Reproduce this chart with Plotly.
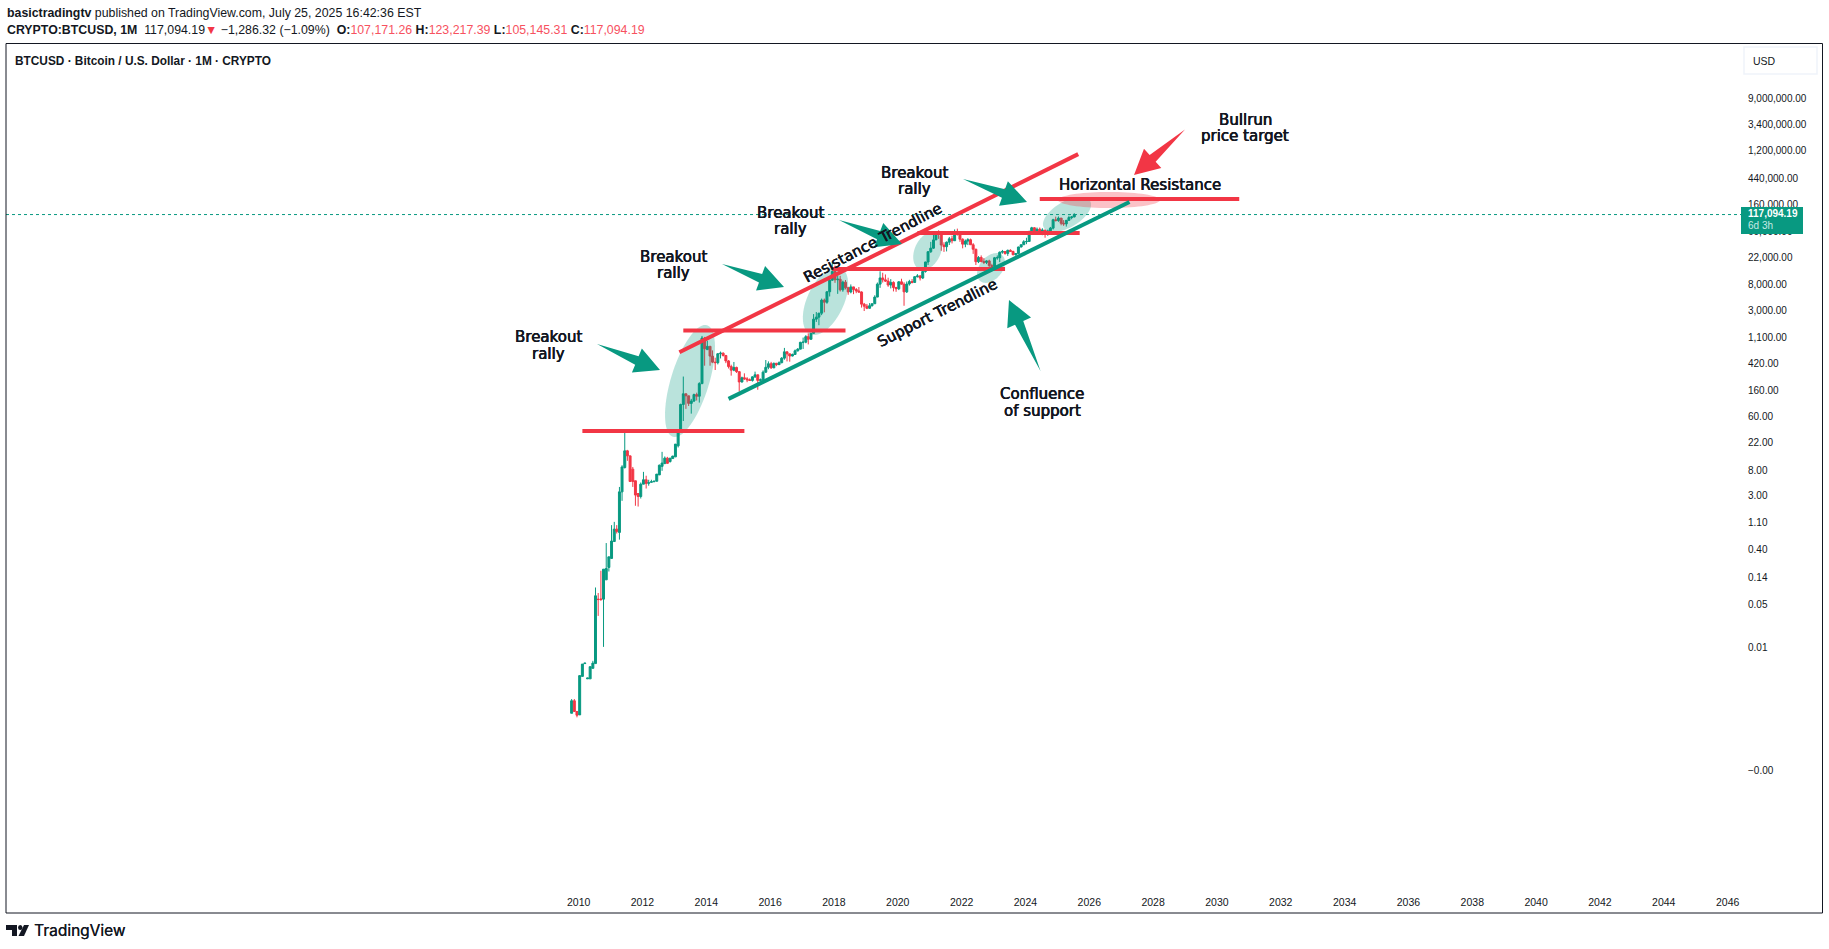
import numpy as np
import pandas as pd
import plotly.graph_objects as go

# monthly BTCUSD candles, first bar Oct 2009
open_ = [
    0.00085, 0.00136, 0.00091,
    0.0008, 0.0034, 0.0055, 0.0031, 0.0031, 0.0046, 0.0055, 0.062, 0.062, 0.062, 0.128, 0.204,
    0.286, 0.54, 0.86, 0.76, 3.49, 8.7, 16.3, 13.5, 8.2, 5.3, 3.28, 2.93,
    4.66, 5.5, 4.84, 5.0, 5.1, 5.2, 6.6, 9.1, 10.1, 12.4, 10.9, 12.2,
    13, 19.7, 33, 93, 139, 129, 97, 106, 135, 127, 204, 1130,
    732, 829, 573, 457, 448, 628, 640, 586, 478, 387, 338, 375,
    320, 217, 254, 244, 236, 230, 263, 284, 230, 236, 314, 377,
    430, 369, 437, 416, 448, 531, 673, 624, 575, 610, 700, 745,
    963, 968, 1190, 1080, 1350, 2300, 2480, 2875, 4700, 4340, 6440, 9950,
    13800, 10100, 10300, 6920, 9240, 7490, 6390, 7730, 7010, 6630, 6370, 4040,
    3740, 3460, 3810, 4100, 5270, 8570, 10820, 10080, 9600, 8290, 9150, 7550,
    7190, 9350, 8540, 6410, 8620, 9450, 9140, 11350, 11650, 10780, 13800, 19700,
    29000, 33100, 45200, 58800, 57700, 37300, 35000, 41500, 47100, 43800, 61300, 57000,
    46300, 38500, 43200, 45500, 37700, 31800, 19900, 23300, 20000, 19400, 20500, 17200,
    16600, 23100, 23100, 28500, 29200, 27200, 30500, 29200, 25900, 27000, 34600, 37700,
    42200, 42600, 61100, 71300, 60600, 67500, 62700, 65300, 59000, 63300, 70300, 96400,
    93400, 102400, 84300, 82500, 94200, 104600, 107171,
]
high = [
    0.00145, 0.00145, 0.00091,
    0.0035, 0.0054, 0.0056, 0.0032, 0.0049, 0.0061, 0.096, 0.078, 0.18, 0.191, 0.51, 0.304,
    1.0, 1.13, 1.0, 4.2, 9.5, 32.4, 16.9, 13.5, 8.9, 5.3, 3.28, 4.96,
    7.4, 6.4, 5.5, 5.5, 5.3, 6.8, 9.75, 15.7, 13.2, 13, 12.4, 13.5,
    21, 34.5, 96, 266, 140, 129, 115, 140, 145, 215, 1224, 1180,
    1023, 835, 710, 540, 635, 680, 660, 600, 495, 415, 460, 385,
    320, 265, 300, 260, 248, 268, 320, 285, 247, 335, 495, 470,
    462, 450, 445, 470, 552, 780, 680, 625, 630, 735, 775, 980,
    1150, 1260, 1350, 1360, 2780, 3000, 2920, 4980, 4980, 6470, 11500, 19800,
    17200, 11780, 11700, 9760, 10000, 7770, 8480, 7750, 7410, 7680, 6540, 4230,
    4070, 4200, 4140, 5640, 9100, 13880, 13150, 12330, 10910, 10350, 9520, 7750,
    9600, 10500, 9180, 9460, 10080, 10380, 11430, 12480, 12080, 14100, 19860, 29300,
    41900, 58300, 61800, 64800, 59500, 41300, 42500, 50500, 52900, 67000, 69000, 59000,
    47900, 45800, 48200, 47400, 40000, 32400, 24600, 25200, 22800, 21000, 21400, 18400,
    23800, 25200, 29200, 31000, 29800, 31400, 31800, 30200, 27500, 35000, 38000, 44700,
    49000, 64000, 73800, 72800, 71900, 71900, 70000, 65600, 66500, 73600, 99800, 108300,
    109100, 102800, 95000, 95800, 112000, 110500, 123217.39,
]
low = [
    0.00085, 0.00091, 0.00073,
    0.0008, 0.0034, 0.0055, 0.0031, 0.0031, 0.0046, 0.0055, 0.033, 0.058, 0.0103, 0.128, 0.175,
    0.286, 0.54, 0.73, 0.58, 2.49, 8.4, 11.2, 5.15, 4.2, 2.07, 2.01, 2.72,
    4.66, 3.96, 4.4, 5.0, 5.1, 5.2, 6.6, 7.7, 9.9, 10.1, 10.5, 12.2,
    12.9, 18.5, 33, 50, 79, 88, 66, 102, 108, 100, 200, 400,
    720, 400, 440, 340, 420, 525, 565, 440, 360, 275, 325, 305,
    152, 212, 235, 215, 228, 220, 252, 162, 225, 235, 305, 350,
    355, 365, 393, 413, 437, 500, 470, 465, 568, 605, 680, 740,
    750, 930, 890, 1060, 1340, 2070, 1830, 2670, 2970, 4100, 5390, 9700,
    9000, 5950, 6500, 6430, 7030, 5750, 6070, 5880, 6100, 6210, 3550, 3120,
    3350, 3400, 3690, 4090, 5330, 7450, 9100, 9330, 7750, 7300, 6520, 6420,
    6850, 8450, 3800, 6150, 8110, 8810, 8950, 10980, 9830, 10370, 13200, 17600,
    27700, 32300, 45000, 47000, 30000, 28800, 29300, 37300, 39600, 43300, 53200, 42000,
    32900, 34300, 37200, 37600, 26700, 17600, 18900, 19500, 18200, 18200, 15500, 16300,
    16500, 21400, 19600, 26900, 25900, 24800, 29000, 25400, 24900, 26600, 34100, 37600,
    38500, 41900, 59300, 59200, 56600, 58400, 53900, 49000, 52700, 58900, 66800, 90500,
    89200, 78200, 76600, 74500, 93300, 98200, 105145.31,
]
close = [
    0.00136, 0.00091, 0.00079,
    0.0035, 0.0054, 0.0056, 0.0032, 0.0049, 0.0056, 0.0703, 0.061, 0.0615, 0.191, 0.196, 0.304,
    0.55, 0.86, 0.79, 3.49, 8.9, 16.3, 13.5, 5.15, 5.15, 3.1, 2.93, 4.66,
    5.5, 4.8, 4.9, 5.1, 5.2, 6.8, 9.5, 10.3, 12.4, 10.2, 12.4, 13.4,
    21, 33, 93, 139, 129, 97, 106, 135, 127, 204, 1130, 756,
    829, 573, 457, 448, 628, 640, 586, 478, 387, 338, 375, 320,
    217, 254, 244, 236, 230, 263, 284, 230, 236, 314, 377, 430,
    369, 437, 416, 448, 531, 673, 624, 575, 610, 700, 745, 963,
    968, 1190, 1080, 1350, 2300, 2480, 2875, 4700, 4340, 6440, 9950, 13800,
    10100, 10300, 6920, 9240, 7490, 6390, 7730, 7010, 6630, 6370, 4040, 3740,
    3460, 3810, 4100, 5270, 8570, 10820, 10080, 9600, 8290, 9150, 7550, 7190,
    9350, 8540, 6410, 8620, 9450, 9140, 11350, 11650, 10780, 13800, 19700, 29000,
    33100, 45200, 58800, 57700, 37300, 35000, 41500, 47100, 43800, 61300, 57000, 46300,
    38500, 43200, 45500, 37700, 31800, 19900, 23300, 20000, 19400, 20500, 17200, 16600,
    23100, 23100, 28500, 29200, 27200, 30500, 29200, 25900, 27000, 34600, 37700, 42200,
    42600, 61100, 71300, 60600, 67500, 62700, 65300, 59000, 63300, 70300, 96400, 93400,
    102400, 84300, 82500, 94200, 104600, 107171, 117094.19,
]
bar_dates = pd.date_range("2009-10-01", periods=len(close), freq="MS")
last_price = close[-1]

year_ticks = [y for y in range(2010, 2047, 2)]
price_ticks = [9.2e6, 3.4e6, 1.28e6, 460000, 170000, 63100, 23200, 8470, 3180, 1170,
               435, 158.6, 60, 22, 7.9, 3.03, 1.10, 0.40, 0.139, 0.051, 0.0101, 0.0000989]
price_labels = ["9,000,000.00", "3,400,000.00", "1,200,000.00", "440,000.00", "160,000.00",
                "60,000.00", "22,000.00", "8,000.00", "3,000.00", "1,100.00", "420.00",
                "160.00", "60.00", "22.00", "8.00", "3.00", "1.10", "0.40", "0.14", "0.05",
                "0.01", "\u22120.00"]

# drawn lines: (start date, start price, end date, end price)
red_lines = [
    ("2010-02-01", 34.5, "2015-03-01", 34.5),
    ("2013-04-01", 1497, "2018-05-01", 1497),
    ("2017-12-01", 15070, "2023-05-01", 15070),
    ("2020-08-01", 58480, "2025-09-01", 58480),
    ("2024-06-01", 211000, "2030-09-01", 211000),
    ("2013-02-15", 661, "2025-08-15", 1135000),
]
green_line = ("2014-09-01", 115, "2027-03-25", 188000)

UP = "#089981"
DOWN = "#F23645"
INK = "#131722"

L, R, T, B = 6, 1743, 44, 913
W, H = 1829, 949


def px(x):
    return (x - L) / (R - L)


def py(y):
    return (B - y) / (B - T)


def poly(points):
    return "M " + " L ".join(f"{px(x):.5f} {py(y):.5f}" for x, y in points) + " Z"


def ellipse(cx, cy, a, b, tilt):
    # a along the long side, tilt in degrees away from vertical, leaning right
    t = np.linspace(0, 2 * np.pi, 72, endpoint=False)
    th = np.radians(tilt)
    xs = cx + a * np.cos(t) * np.sin(th) + b * np.sin(t) * np.cos(th)
    ys = cy - a * np.cos(t) * np.cos(th) + b * np.sin(t) * np.sin(th)
    return poly(zip(xs, ys))


def arrow(x0, y0, x1, y1, head=25, barb=13, neck=4.5):
    d = np.array([x1 - x0, y1 - y0], dtype=float)
    d /= np.hypot(*d)
    n = np.array([-d[1], d[0]])
    tip = np.array([x1, y1])
    base = tip - d * head
    pts = [(x0, y0), base + n * neck, base + n * barb, tip, base - n * barb, base - n * neck]
    return poly(pts)


fig = go.Figure()
fig.add_trace(go.Candlestick(
    x=bar_dates, open=open_, high=high, low=low, close=close,
    increasing=dict(line=dict(color=UP, width=1), fillcolor=UP),
    decreasing=dict(line=dict(color=DOWN, width=1), fillcolor=DOWN),
    whiskerwidth=0,
))

shapes = []
# frame
shapes.append(dict(type="rect", xref="paper", yref="paper", x0=px(6), x1=px(1822.5), y0=py(913), y1=py(43.5),
                   line=dict(color=INK, width=1), layer="above"))
# last price
shapes.append(dict(type="line", xref="paper", yref="y", x0=0, x1=px(1741), y0=last_price, y1=last_price,
                   line=dict(color=UP, width=1, dash="dot"), layer="below"))
# ellipses
for e in [(690, 381, 58.3, 19.1, 17), (825.5, 301, 36.5, 18.3, 25), (927.7, 251, 20, 13, 25),
          (991, 268, 17, 11.3, 40), (1067, 214.5, 26.7, 13, 60)]:
    shapes.append(dict(type="path", xref="paper", yref="paper", path=ellipse(*e),
                       fillcolor=UP, opacity=0.28, line=dict(width=0), layer="above"))
shapes.append(dict(type="path", xref="paper", yref="paper", path=ellipse(1109, 200, 51, 8, 90),
                   fillcolor=DOWN, opacity=0.3, line=dict(width=0), layer="above"))
# trend and level lines
for x0, y0, x1, y1 in red_lines:
    shapes.append(dict(type="line", x0=x0, y0=y0, x1=x1, y1=y1, xref="x", yref="y",
                       line=dict(color=DOWN, width=4), layer="above"))
shapes.append(dict(type="line", x0=green_line[0], y0=green_line[1], x1=green_line[2], y1=green_line[3],
                   xref="x", yref="y", line=dict(color=UP, width=4), layer="above"))
# arrows
for a in [(597, 344, 660, 370), (722, 264, 784, 287), (839, 220, 902, 244), (963, 179, 1027, 202),
          (1040.5, 371, 1009, 300)]:
    shapes.append(dict(type="path", xref="paper", yref="paper", path=arrow(*a),
                       fillcolor=UP, line=dict(width=0), layer="above"))
shapes.append(dict(type="path", xref="paper", yref="paper", path=arrow(1185, 129.5, 1134, 175),
                   fillcolor=DOWN, line=dict(width=0), layer="above"))
# price tag and currency button
shapes.append(dict(type="rect", xref="paper", yref="paper", x0=px(1741), x1=px(1803), y0=py(234), y1=py(207),
                   fillcolor=UP, line=dict(width=0), layer="above"))
shapes.append(dict(type="rect", xref="paper", yref="paper", x0=px(1744), x1=px(1817), y0=py(74), y1=py(47),
                   fillcolor="white", line=dict(color="#F0F3FA", width=1.5), layer="above"))
# TradingView mark
shapes.append(dict(type="path", xref="paper", yref="paper",
                   path=poly([(6, 925), (17, 925), (17, 936), (12, 936), (12, 930), (6, 930)]),
                   fillcolor=INK, line=dict(width=0)))
shapes.append(dict(type="circle", xref="paper", yref="paper", x0=px(18), x1=px(22.5), y0=py(930), y1=py(925),
                   fillcolor=INK, line=dict(width=0)))
shapes.append(dict(type="path", xref="paper", yref="paper",
                   path=poly([(24, 925), (29, 925), (24, 936), (18.5, 936)]),
                   fillcolor=INK, line=dict(width=0)))


def note(x, y, text, size=15, angle=0, color=INK, family="DejaVu Sans", anchor="center", shadow="none"):
    return dict(xref="paper", yref="paper", x=px(x), y=py(y), text=text, showarrow=False,
                font=dict(family=family, size=size, color=color, shadow=shadow), textangle=angle,
                xanchor=anchor, yanchor="middle", align="center")


def drawn(x, y, text, angle=0):
    return note(x, y, text, angle=angle, shadow="0.35px 0 0 #131722, -0.25px 0 0 #131722")


RED_TXT = "#F7525F"
HEAD = "Liberation Sans"
line1 = "<b>basictradingtv</b> published on TradingView.com, July 25, 2025 16:42:36 EST"
line2 = ("<b>CRYPTO:BTCUSD, 1M</b>  117,094.19<span style='color:%s'>\u25bc</span> \u22121,286.32 (\u22121.09%%)  "
         "<b>O:</b><span style='color:%s'>107,171.26</span> <b>H:</b><span style='color:%s'>123,217.39</span> "
         "<b>L:</b><span style='color:%s'>105,145.31</span> <b>C:</b><span style='color:%s'>117,094.19</span>"
         % (DOWN, RED_TXT, RED_TXT, RED_TXT, RED_TXT))

annotations = [
    drawn(548, 337, "Breakout"), drawn(548, 353.5, "rally"),
    drawn(673, 257, "Breakout"), drawn(673, 273, "rally"),
    drawn(790, 212.5, "Breakout"), drawn(790, 229, "rally"),
    drawn(914.5, 172.5, "Breakout"), drawn(914.5, 189, "rally"),
    drawn(1245, 120, "Bullrun"), drawn(1245, 136.5, "price target"),
    drawn(1140, 185.5, "Horizontal Resistance"),
    drawn(1042, 394, "Confluence"), drawn(1042, 410.5, "of support"),
    drawn(872.5, 243, "Resistance Trendline", angle=-27.7),
    drawn(937, 312.6, "Support Trendline", angle=-27),
    note(5, 13, line1, size=12.35, family=HEAD, anchor="left"),
    note(5, 29.5, line2, size=12.35, family=HEAD, anchor="left"),
    note(13, 61, "<b>BTCUSD \u00b7 Bitcoin / U.S. Dollar \u00b7 1M \u00b7 CRYPTO</b>", size=11.85, family=HEAD, anchor="left"),
    note(1746, 214, "<b>117,094.19</b>", size=10, color="white", family=HEAD, anchor="left"),
    note(1746, 226, "6d 3h", size=10, color="#C6EAE4", family=HEAD, anchor="left"),
    note(1751, 61, "USD", size=10.5, family=HEAD, anchor="left"),
    note(32, 931, "TradingView", size=15.5, family="Inter", anchor="left", shadow="0.3px 0 0 #131722"),
]

fig.update_layout(
    width=W, height=H, autosize=False,
    margin=dict(l=L, r=W - R, t=T, b=H - B, pad=0),
    paper_bgcolor="white", plot_bgcolor="white",
    showlegend=False, hovermode=False, boxgap=0.2, boxgroupgap=0,
    shapes=shapes, annotations=annotations,
    xaxis=dict(type="date", range=["1992-01-11", "2046-06-14"], showgrid=False, zeroline=False,
               rangeslider=dict(visible=False),
               tickvals=[f"{y - 1}-12-20" for y in year_ticks], ticktext=[str(y) for y in year_ticks],
               ticklabelposition="inside", ticks="inside", ticklen=4, tickcolor="white",
               tickfont=dict(family=HEAD, size=10.5, color=INK), showline=False),
    yaxis=dict(type="log", range=[-6.33, 7.852], side="right", showgrid=False, zeroline=False,
               tickvals=price_ticks, ticktext=price_labels, ticks="outside", ticklen=2, tickcolor="white",
               tickfont=dict(family=HEAD, size=10, color=INK), showline=False),
)

fig.write_html("out.html", config=dict(displayModeBar=False),
               post_script="document.body.style.margin='0';document.body.style.overflow='hidden';")
